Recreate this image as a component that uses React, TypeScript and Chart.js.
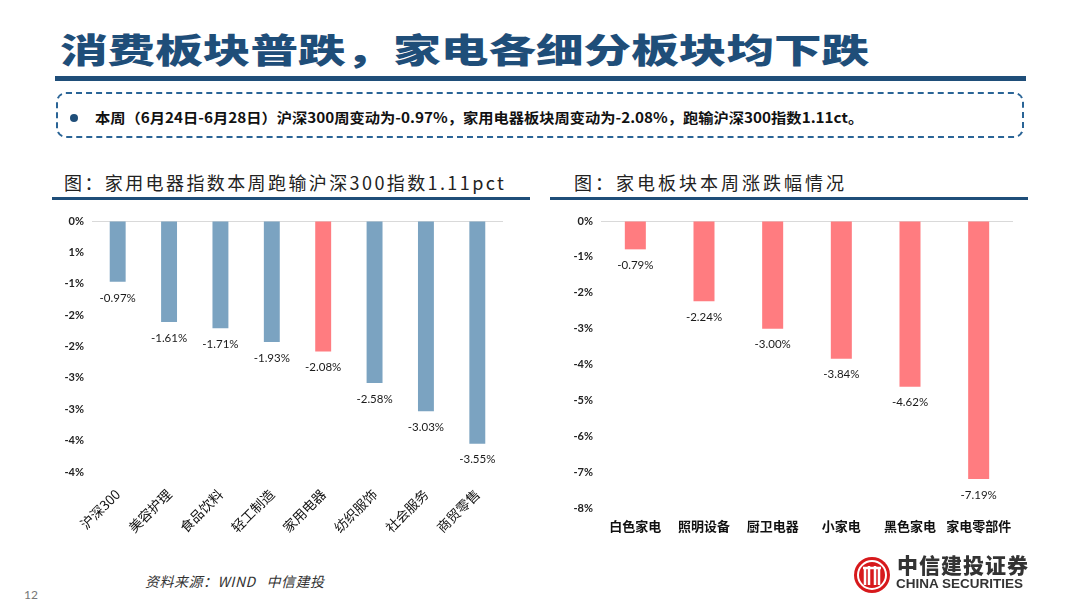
import React, { useEffect, useRef } from "react";
import { Chart, registerables } from "chart.js";

Chart.register(...registerables);

const leftCategories = ["沪深300", "美容护理", "食品饮料", "轻工制造", "家用电器", "纺织服饰", "社会服务", "商贸零售"];
const leftValues = [-0.97, -1.61, -1.71, -1.93, -2.08, -2.58, -3.03, -3.55];
const leftColors = ["#7BA3C1", "#7BA3C1", "#7BA3C1", "#7BA3C1", "#FF7C80", "#7BA3C1", "#7BA3C1", "#7BA3C1"];
const leftTickLabels = ["0%", "1%", "-1%", "-2%", "-2%", "-3%", "-3%", "-4%", "-4%"];

const rightCategories = ["白色家电", "照明设备", "厨卫电器", "小家电", "黑色家电", "家电零部件"];
const rightValues = [-0.79, -2.24, -3.0, -3.84, -4.62, -7.19];
const rightTickLabels = ["0%", "-1%", "-2%", "-3%", "-4%", "-5%", "-6%", "-7%", "-8%"];

const BLUE = "#1F4E79";

function makeLabelPlugin(labels: number[]) {
  return {
    id: "barValueLabels",
    afterDatasetsDraw(chart: any) {
      const ctx = chart.ctx;
      const meta = chart.getDatasetMeta(0);
      ctx.save();
      ctx.font = "11.5px Lato, 'Open Sans', sans-serif";
      ctx.fillStyle = "#1a1a1a";
      ctx.textAlign = "center";
      ctx.textBaseline = "middle";
      meta.data.forEach((el: any, i: number) => {
        ctx.fillText(labels[i].toFixed(2) + "%", el.x, el.y + 16);
      });
      ctx.restore();
    },
  };
}

function BarChart(props: {
  categories: string[];
  values: number[];
  labelValues: number[];
  colors: string[] | string;
  min: number;
  step: number;
  tickLabels: string[];
  yWidth: number;
  xHeight: number;
  padRight: number;
  rotate: boolean;
  barPct: number;
  style: React.CSSProperties;
}) {
  const ref = useRef<HTMLCanvasElement>(null);
  useEffect(() => {
    if (!ref.current) return;
    const p = props;
    const chart = new Chart(ref.current, {
      type: "bar",
      data: {
        labels: p.categories,
        datasets: [
          {
            data: p.values,
            backgroundColor: p.colors as any,
            categoryPercentage: 1,
            barPercentage: p.barPct,
          },
        ],
      },
      options: {
        animation: false,
        responsive: false,
        maintainAspectRatio: false,
        layout: { padding: { top: 16, right: p.padRight, bottom: 0, left: 0 } },
        plugins: { legend: { display: false }, tooltip: { enabled: false } },
        scales: {
          x: {
            grid: { display: false },
            border: { display: false },
            ticks: {
              color: "#111",
              font: p.rotate
                ? { size: 13.5, family: "'Noto Sans CJK SC', sans-serif" }
                : { size: 13, family: "'Noto Sans CJK SC', sans-serif", weight: "bold" },
              maxRotation: p.rotate ? 45 : 0,
              minRotation: p.rotate ? 45 : 0,
              padding: p.rotate ? 6 : 2,
              autoSkip: false,
            },
            afterFit: (s: any) => {
              s.height = p.xHeight;
            },
          },
          y: {
            min: p.min,
            max: 0,
            border: { display: false },
            grid: {
              color: (c: any) => (c.tick && c.tick.value === 0 ? "#D9D9D9" : "rgba(0,0,0,0)"),
              drawTicks: false,
              lineWidth: 1,
            },
            ticks: {
              stepSize: p.step,
              padding: 8,
              color: "#222",
              font: { size: 11, family: "Lato, 'Open Sans', sans-serif", weight: "bold" },
              callback: (v: any) => {
                const idx = Math.round(-Number(v) / p.step);
                return p.tickLabels[idx] ?? "";
              },
            },
            afterFit: (s: any) => {
              s.width = p.yWidth;
            },
          },
        },
      },
      plugins: [makeLabelPlugin(p.labelValues)],
    });
    return () => chart.destroy();
  }, []);
  const st = props.style;
  return (
    <canvas
      ref={ref}
      width={st.width as number}
      height={st.height as number}
      style={{ position: "absolute", ...st }}
    />
  );
}

export default function App() {
  useEffect(() => {
    document.body.style.margin = "0";
  }, []);
  return (
    <div
      style={{
        position: "fixed",
        left: 0,
        top: 0,
        width: 1080,
        height: 608,
        background: "#fff",
        overflow: "hidden",
        fontFamily: "'Noto Sans CJK SC', sans-serif",
      }}
    >
      <div
        style={{
          position: "absolute",
          left: 60,
          top: 26,
          fontSize: 34,
          fontWeight: 900,
          color: BLUE,
          lineHeight: "46px",
          whiteSpace: "nowrap",
          transform: "scaleX(1.4)",
          transformOrigin: "left center",
        }}
      >
        消费板块普跌，家电各细分板块均下跌
      </div>
      <div style={{ position: "absolute", left: 55, top: 76, width: 971, height: 5, background: BLUE }} />
      <div
        style={{
          position: "absolute",
          left: 56,
          top: 92,
          width: 968,
          height: 46,
          border: "2.5px dashed #2A6496",
          borderRadius: 10,
          boxSizing: "border-box",
        }}
      />
      <div
        style={{
          position: "absolute",
          left: 70,
          top: 114,
          width: 8,
          height: 8,
          borderRadius: 4,
          background: BLUE,
        }}
      />
      <div
        style={{
          position: "absolute",
          left: 95,
          top: 106,
          fontSize: 14,
          fontWeight: 700,
          color: "#111",
          whiteSpace: "nowrap",
          lineHeight: "22px",
          transform: "scaleX(1.09)",
          transformOrigin: "left center",
        }}
      >
        本周（6月24日-6月28日）沪深300周变动为-0.97%，家用电器板块周变动为-2.08%，跑输沪深300指数1.11ct。
      </div>

      <div
        style={{
          position: "absolute",
          left: 64,
          top: 168,
          fontSize: 18,
          color: "#222",
          whiteSpace: "nowrap",
          lineHeight: "28px",
          letterSpacing: 2.4,
        }}
      >
        图：家用电器指数本周跑输沪深300指数1.11pct
      </div>
      <div style={{ position: "absolute", left: 52, top: 197, width: 478, height: 3, background: BLUE }} />

      <div
        style={{
          position: "absolute",
          left: 574,
          top: 168,
          fontSize: 18,
          color: "#222",
          whiteSpace: "nowrap",
          lineHeight: "28px",
          letterSpacing: 3,
        }}
      >
        图：家电板块本周涨跌幅情况
      </div>
      <div style={{ position: "absolute", left: 550, top: 197, width: 478, height: 3, background: BLUE }} />

      <BarChart
        categories={leftCategories}
        values={leftValues}
        labelValues={leftValues}
        colors={leftColors}
        min={-4}
        step={0.5}
        tickLabels={leftTickLabels}
        yWidth={37}
        xHeight={88}
        padRight={27}
        rotate={true}
        barPct={0.31}
        style={{ left: 55, top: 205, width: 475, height: 355 }}
      />
      <BarChart
        categories={rightCategories}
        values={rightValues}
        labelValues={rightValues}
        colors="#FF7C80"
        min={-8}
        step={1}
        tickLabels={rightTickLabels}
        yWidth={51}
        xHeight={52}
        padRight={15}
        rotate={false}
        barPct={0.306}
        style={{ left: 550, top: 205, width: 478, height: 355 }}
      />

      <div
        style={{
          position: "absolute",
          left: 145,
          top: 571,
          fontSize: 14,
          fontStyle: "italic",
          color: "#333",
          whiteSpace: "nowrap",
          lineHeight: "20px",
          letterSpacing: 0.5,
        }}
      >
        资料来源：WIND&nbsp;&nbsp;&nbsp;中信建投
      </div>
      <div
        style={{
          position: "absolute",
          left: 24,
          top: 586,
          fontSize: 12,
          color: "#777",
          fontFamily: "Lato, sans-serif",
          lineHeight: "18px",
        }}
      >
        12
      </div>

      <svg style={{ position: "absolute", left: 852, top: 555 }} width={40} height={40} viewBox="0 0 40 40">
        <circle cx="20" cy="20" r="18" fill="#D7191C" />
        <circle cx="20" cy="20" r="14" fill="none" stroke="#fff" strokeWidth="2" />
        <path d="M13 30 V14 M17 30 V11 M23 30 V11 M27 30 V14 M11 13 H29" stroke="#fff" strokeWidth="2.5" fill="none" />
      </svg>
      <div
        style={{
          position: "absolute",
          left: 897,
          top: 551,
          fontSize: 21,
          fontWeight: 900,
          color: "#333",
          whiteSpace: "nowrap",
          lineHeight: "26px",
          letterSpacing: 1,
        }}
      >
        中信建投证券
      </div>
      <div
        style={{
          position: "absolute",
          left: 896,
          top: 576,
          fontSize: 13.5,
          fontWeight: 700,
          color: "#333",
          whiteSpace: "nowrap",
          lineHeight: "16px",
          fontFamily: "'Liberation Sans', Arial, sans-serif",
        }}
      >
        CHINA SECURITIES
      </div>
    </div>
  );
}
